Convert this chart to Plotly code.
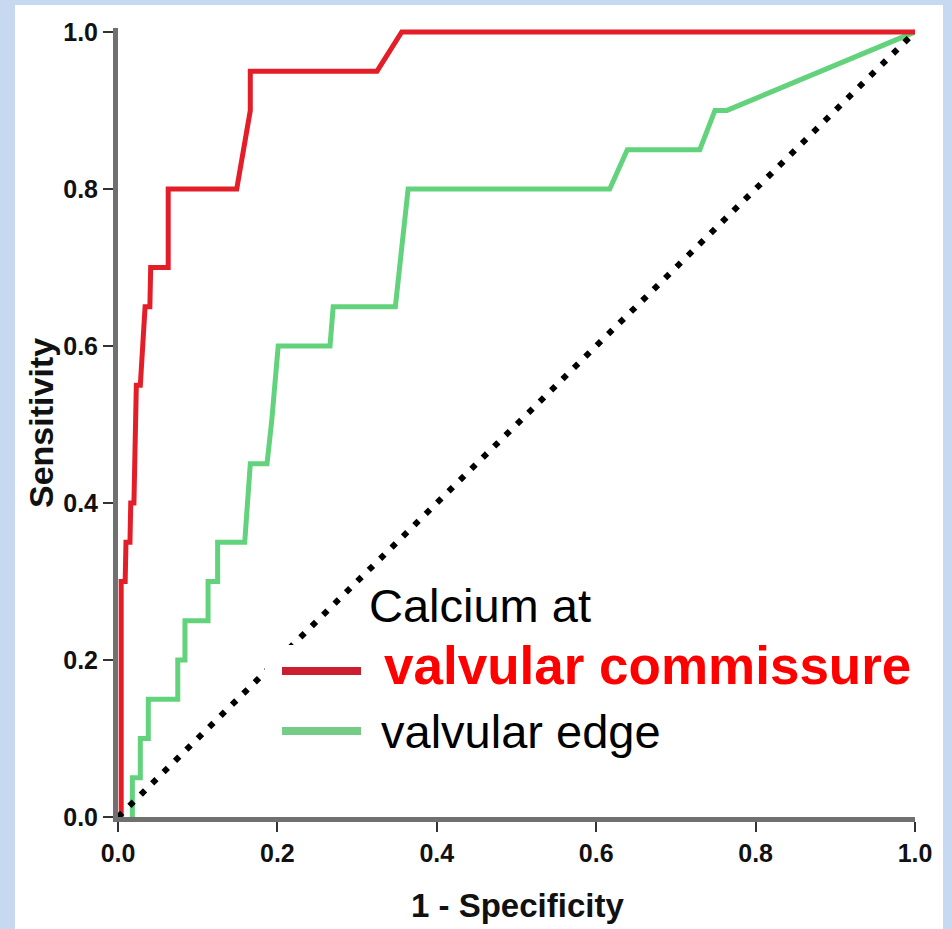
import plotly.graph_objects as go

# ROC data
commissure_fpr = [0.0, 0.004, 0.004, 0.009, 0.010, 0.015, 0.016, 0.020, 0.023, 0.028, 0.031, 0.034,
                  0.040, 0.041, 0.063, 0.063, 0.149, 0.166, 0.166, 0.325, 0.356, 1.0]
commissure_tpr = [0.0, 0.0, 0.30, 0.30, 0.35, 0.35, 0.40, 0.40, 0.55, 0.55, 0.60, 0.65,
                  0.65, 0.70, 0.70, 0.80, 0.80, 0.90, 0.95, 0.95, 1.0, 1.0]

edge_fpr = [0.018, 0.018, 0.028, 0.028, 0.038, 0.038, 0.075, 0.075, 0.084, 0.084, 0.113, 0.113,
            0.125, 0.125, 0.159, 0.166, 0.187, 0.193, 0.201, 0.266, 0.270, 0.348, 0.364,
            0.617, 0.639, 0.730, 0.749, 0.764, 1.0]
edge_tpr = [0.0, 0.05, 0.05, 0.10, 0.10, 0.15, 0.15, 0.20, 0.20, 0.25, 0.25, 0.30,
            0.30, 0.35, 0.35, 0.45, 0.45, 0.506, 0.60, 0.60, 0.65, 0.65, 0.80,
            0.80, 0.85, 0.85, 0.90, 0.90, 1.0]

ref_x = [0.0, 1.0]
ref_y = [0.0, 1.0]

tick_vals = [0.0, 0.2, 0.4, 0.6, 0.8, 1.0]
tick_text = ["0.0", "0.2", "0.4", "0.6", "0.8", "1.0"]

legend_title = "Calcium at"
legend_names = ["valvular commissure", "valvular edge"]

RED = "#e41e28"
GREEN = "#62d37c"
FONT = "Liberation Sans, Arial, sans-serif"

W, H = 952, 929
L, R, T, B = 118, 37, 28, 112
PW, PH = W - L - R, H - T - B


def px_x(p):
    return (p - L) / PW


def px_y(p):
    return (H - B - p) / PH


fig = go.Figure()
fig.add_trace(go.Scatter(x=edge_fpr, y=edge_tpr, mode="lines",
                         line=dict(color=GREEN, width=5), showlegend=False, hoverinfo="skip"))
fig.add_trace(go.Scatter(x=commissure_fpr, y=commissure_tpr, mode="lines",
                         line=dict(color=RED, width=5), showlegend=False, hoverinfo="skip"))
fig.add_trace(go.Scatter(x=ref_x, y=ref_y, mode="lines",
                         line=dict(color="black", width=6, dash="6px,10px"),
                         showlegend=False, hoverinfo="skip"))

axis_common = dict(
    showgrid=False, zeroline=False, showline=True, linecolor="#707070", linewidth=5,
    ticks="outside", ticklen=10, tickwidth=2, tickcolor="#333333",
    tickvals=tick_vals, ticktext=tick_text,
    tickfont=dict(family=FONT, size=25, color="#111111", weight="bold"),
    layer="below traces",
)

shapes = [
    # white panel
    dict(type="rect", xref="paper", yref="paper", x0=px_x(15), x1=px_x(943),
         y0=px_y(935), y1=px_y(5), fillcolor="white", line=dict(width=0), layer="below"),
    # legend box covering the reference line
    dict(type="rect", xref="paper", yref="paper", x0=px_x(265), x1=px_x(912),
         y0=px_y(755), y1=px_y(645), fillcolor="white", line=dict(width=0), layer="above"),
    dict(type="line", xref="paper", yref="paper", x0=px_x(282), x1=px_x(361),
         y0=px_y(671), y1=px_y(671), line=dict(color="#cc1f2e", width=8), layer="above"),
    dict(type="line", xref="paper", yref="paper", x0=px_x(282), x1=px_x(361),
         y0=px_y(731), y1=px_y(731), line=dict(color="#74cc86", width=8), layer="above"),
]

annotations = [
    dict(text=legend_title, xref="paper", yref="paper", x=px_x(367), y=px_y(605),
         xanchor="left", yanchor="middle", showarrow=False,
         font=dict(family=FONT, size=47, color="black")),
    dict(text="<b>" + legend_names[0] + "</b>", xref="paper", yref="paper", x=px_x(382), y=px_y(665),
         xanchor="left", yanchor="middle", showarrow=False,
         font=dict(family=FONT, size=53, color="#ff0000")),
    dict(text=legend_names[1], xref="paper", yref="paper", x=px_x(379), y=px_y(731),
         xanchor="left", yanchor="middle", showarrow=False,
         font=dict(family=FONT, size=47, color="black")),
    dict(text="<b>Sensitivity</b>", xref="paper", yref="paper", x=px_x(41), y=px_y(423),
         xanchor="center", yanchor="middle", textangle=-90, showarrow=False,
         font=dict(family=FONT, size=34, color="#111111")),
    dict(text="<b>1 - Specificity</b>", xref="paper", yref="paper", x=px_x(517), y=px_y(905),
         xanchor="center", yanchor="middle", showarrow=False,
         font=dict(family=FONT, size=33, color="#111111")),
]

fig.update_layout(
    width=W, height=H,
    margin=dict(l=L, r=R, t=T, b=B),
    paper_bgcolor="#c6d9f1",
    plot_bgcolor="white",
    xaxis=dict(range=[0, 1.0], **axis_common),
    yaxis=dict(range=[0, 1.005], **axis_common),
    shapes=shapes,
    annotations=annotations,
    showlegend=False,
)

fig.write_html(
    "out.html",
    config={"displayModeBar": False},
    post_script="document.body.style.margin='0px';document.body.style.overflow='hidden';",
)
